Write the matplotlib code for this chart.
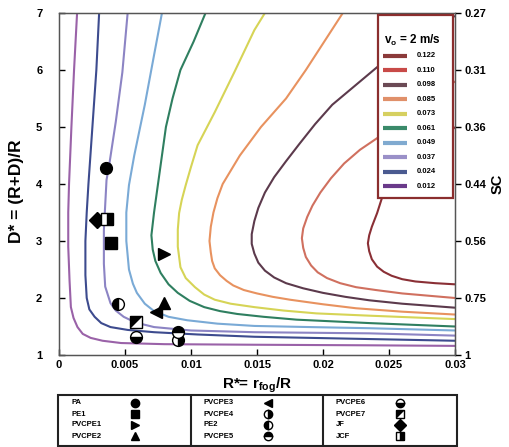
import matplotlib
matplotlib.use("Agg")
import matplotlib.pyplot as plt
from matplotlib.patches import Rectangle

plt.rcParams['font.family'] = ['Liberation Sans', 'DejaVu Sans']
plt.rcParams['font.weight'] = 'bold'
plt.rcParams['mathtext.fontset'] = 'custom'
plt.rcParams['mathtext.rm'] = 'Liberation Sans:bold'
plt.rcParams['mathtext.it'] = 'Liberation Sans:bold'
plt.rcParams['mathtext.bf'] = 'Liberation Sans:bold'

# ---------------- data ----------------
levels = ['0.122', '0.110', '0.098', '0.085', '0.073', '0.061', '0.049', '0.037', '0.024', '0.012']
level_colors = ['#8a2f35', '#d0705f', '#5c3a4c', '#e8925f', '#d6d456', '#2f7f60',
                '#7aaad6', '#8c84c4', '#3d4b8e', '#9a62a8']
legend_colors = ['#8b3a3a', '#c84a48', '#6b4a55', '#e0906a', '#d6d060', '#3a8a6a',
                 '#80aad0', '#9a90c8', '#4a5a90', '#6a3a8a']

c122_x = [0.0300, 0.0275, 0.0255, 0.0245, 0.0241, 0.0237, 0.0235, 0.0234, 0.0235, 0.0237, 0.0241, 0.0246, 0.0252, 0.0260, 0.0270, 0.0285, 0.0300]
c122_y = [5.00, 4.40, 4.00, 3.78, 3.49, 3.25, 3.10, 2.96, 2.82, 2.68, 2.55, 2.46, 2.39, 2.33, 2.29, 2.26, 2.24]
c110_x = [0.0300, 0.0270, 0.0242, 0.0228, 0.0216, 0.0206, 0.0198, 0.0192, 0.0188, 0.0185, 0.0184, 0.0185, 0.0187, 0.0191, 0.0196, 0.0203, 0.0213, 0.0225, 0.0240, 0.0260, 0.0280, 0.0300]
c110_y = [5.80, 5.30, 4.82, 4.60, 4.36, 4.10, 3.85, 3.62, 3.42, 3.22, 3.05, 2.88, 2.72, 2.57, 2.45, 2.35, 2.26, 2.19, 2.14, 2.08, 2.04, 2.00]
c098_x = [0.0300, 0.0270, 0.0241, 0.0224, 0.0207, 0.0194, 0.0182, 0.0172, 0.0163, 0.0156, 0.0151, 0.0148, 0.0146, 0.0146, 0.0148, 0.0151, 0.0156, 0.0163, 0.0172, 0.0185, 0.0200, 0.0217, 0.0235, 0.0260, 0.0300]
c098_y = [6.95, 6.50, 6.05, 5.72, 5.39, 5.05, 4.70, 4.40, 4.12, 3.85, 3.58, 3.35, 3.12, 2.95, 2.78, 2.62, 2.48, 2.36, 2.26, 2.17, 2.09, 2.02, 1.96, 1.90, 1.83]
c085_x = [0.0215, 0.0201, 0.0187, 0.0172, 0.0153, 0.0137, 0.0124, 0.0120, 0.0117, 0.0115, 0.0114, 0.0115, 0.0116, 0.0118, 0.0122, 0.0127, 0.0132, 0.0140, 0.0150, 0.0162, 0.0175, 0.0200, 0.0225, 0.0260, 0.0300]
c085_y = [7.00, 6.50, 6.00, 5.50, 5.00, 4.50, 4.00, 3.75, 3.50, 3.25, 3.00, 2.80, 2.65, 2.52, 2.40, 2.30, 2.22, 2.14, 2.08, 2.02, 1.97, 1.89, 1.82, 1.76, 1.71]
c073_x = [0.0156, 0.0148, 0.0133, 0.0118, 0.0105, 0.0100, 0.0096, 0.0093, 0.0091, 0.0090, 0.0090, 0.0091, 0.0092, 0.0096, 0.0103, 0.0110, 0.0118, 0.0130, 0.0148, 0.0170, 0.0195, 0.0235, 0.0300]
c073_y = [7.00, 6.70, 5.97, 5.26, 4.68, 4.30, 3.98, 3.72, 3.49, 3.20, 2.90, 2.72, 2.54, 2.35, 2.19, 2.06, 1.97, 1.90, 1.84, 1.78, 1.73, 1.69, 1.63]
c061_x = [0.0111, 0.0102, 0.0092, 0.0086, 0.0081, 0.0078, 0.0075, 0.0072, 0.0070, 0.0071, 0.0073, 0.0077, 0.0083, 0.0090, 0.0099, 0.0110, 0.0122, 0.0135, 0.0155, 0.0180, 0.0235, 0.0300]
c061_y = [7.00, 6.50, 6.00, 5.50, 5.00, 4.50, 4.00, 3.50, 3.10, 2.85, 2.65, 2.44, 2.24, 2.09, 1.95, 1.84, 1.77, 1.72, 1.67, 1.62, 1.56, 1.50]
c049_x = [0.0078, 0.0072, 0.0065, 0.0057, 0.0053, 0.0051, 0.0051, 0.0052, 0.0053, 0.0056, 0.0059, 0.0065, 0.0072, 0.0083, 0.0097, 0.0120, 0.0148, 0.0190, 0.0235, 0.0300]
c049_y = [7.00, 6.26, 5.39, 4.50, 3.98, 3.50, 3.00, 2.75, 2.50, 2.25, 2.09, 1.90, 1.77, 1.67, 1.61, 1.55, 1.51, 1.49, 1.47, 1.43]
c037_x = [0.0052, 0.0048, 0.0043, 0.0038, 0.0036, 0.0034, 0.0034, 0.0035, 0.0039, 0.0043, 0.0049, 0.0058, 0.0072, 0.0100, 0.0148, 0.0235, 0.0300]
c037_y = [7.00, 5.96, 5.09, 4.33, 4.07, 3.19, 2.60, 2.20, 1.91, 1.78, 1.67, 1.57, 1.49, 1.43, 1.40, 1.38, 1.34]
c024_x = [0.00304, 0.00283, 0.00253, 0.00223, 0.0021, 0.0020, 0.0020, 0.0021, 0.0023, 0.0027, 0.0032, 0.0039, 0.0052, 0.0072, 0.0105, 0.0148, 0.0235, 0.0300]
c024_y = [7.00, 6.00, 5.00, 4.00, 3.50, 3.00, 2.40, 2.00, 1.80, 1.67, 1.56, 1.49, 1.44, 1.40, 1.36, 1.32, 1.28, 1.25]
c012_x = [0.00137, 0.00114, 0.00094, 0.00076, 0.0007, 0.0007, 0.0008, 0.0009, 0.0011, 0.0014, 0.0018, 0.0024, 0.0033, 0.0047, 0.0080, 0.0148, 0.0235, 0.0300]
c012_y = [7.00, 6.00, 5.00, 4.00, 3.50, 2.90, 2.30, 1.84, 1.65, 1.49, 1.37, 1.30, 1.25, 1.21, 1.19, 1.18, 1.17, 1.16]

contours_x = [c122_x, c110_x, c098_x, c085_x, c073_x, c061_x, c049_x, c037_x, c024_x, c012_x]
contours_y = [c122_y, c110_y, c098_y, c085_y, c073_y, c061_y, c049_y, c037_y, c024_y, c012_y]

sample_names = ['PA', 'PE1', 'PVCPE1', 'PVCPE2', 'PVCPE3', 'PVCPE4', 'PE2', 'PVCPE5',
                'PVCPE6', 'PVCPE7', 'JF', 'JCF']
sample_x = [0.00355, 0.00397, 0.00797, 0.00797, 0.00734, 0.00899, 0.00448, 0.00899,
            0.00587, 0.00587, 0.00290, 0.00367]
sample_y = [4.28, 2.97, 2.78, 1.92, 1.76, 1.26, 1.89, 1.41, 1.32, 1.58, 3.37, 3.38]

y_ticks = [1, 2, 3, 4, 5, 6, 7]
sc_labels = ['1', '0.75', '0.56', '0.44', '0.36', '0.31', '0.27']
x_ticks = [0, 0.005, 0.01, 0.015, 0.02, 0.025, 0.03]
x_labels = ['0', '0.005', '0.01', '0.015', '0.02', '0.025', '0.03']

ULTRI = [(-1, -1), (-1, 1), (1, 1)]
marker_styles = {
    'PA': ('o', 'full'), 'PE1': ('s', 'full'), 'PVCPE1': ('>', 'full'),
    'PVCPE2': ('^', 'full'), 'PVCPE3': ('<', 'full'), 'PVCPE4': ('o', 'right'),
    'PE2': ('o', 'left'), 'PVCPE5': ('o', 'top'), 'PVCPE6': ('o', 'bottom'),
    'PVCPE7': ('diag', 'full'), 'JF': ('D', 'full'), 'JCF': ('s', 'right'),
}


def draw_marker(ax, x, y, name, ms):
    m, fs = marker_styles[name]
    if m == 'diag':
        ax.plot(x, y, linestyle='none', marker='s', ms=ms, mfc='white', mec='black', mew=1.0, zorder=5)
        ax.plot(x, y, linestyle='none', marker=ULTRI, ms=ms, mfc='black', mec='black', mew=0.5, zorder=6)
    else:
        msz = ms * 0.95 if m == 'D' else ms
        ax.plot(x, y, linestyle='none', marker=m, ms=msz, fillstyle=fs, mfc='black',
                mfcalt='white', mec='black', mew=1.0, zorder=5)


fig = plt.figure(figsize=(5.09, 4.47), dpi=100)
ax = fig.add_axes([59 / 509, 1 - 355 / 447, 396 / 509, 342 / 447])

for cx, cy, col in zip(contours_x, contours_y, level_colors):
    ax.plot(cx, cy, color=col, lw=1.5, solid_capstyle='butt', solid_joinstyle='round', zorder=2)

for n, x, y in zip(sample_names, sample_x, sample_y):
    draw_marker(ax, x, y, n, 8.5)

ax.set_xlim(0, 0.03)
ax.set_ylim(1, 7)
ax.set_xticks(x_ticks)
ax.set_xticklabels(x_labels)
ax.set_yticks(y_ticks)
ax.set_yticklabels([str(v) for v in y_ticks])
ax.tick_params(axis='both', direction='in', length=4, width=1, labelsize=8, colors='black')
ax.tick_params(axis='y', pad=12)
for s in ax.spines.values():
    s.set_color('#555555')
    s.set_linewidth(1.0)
ax.set_xlabel(r'R*= r$_{fog}$/R', fontsize=11, fontweight='bold', labelpad=4)
ax.set_ylabel('D* = (R+D)/R', fontsize=12.5, fontweight='bold')
ax.yaxis.set_label_coords(-0.088, 0.48)

ax2 = ax.twinx()
ax2.set_ylim(1, 7)
ax2.set_yticks(y_ticks)
ax2.set_yticklabels(sc_labels)
ax2.tick_params(axis='y', direction='out', length=4, width=1, labelsize=8, pad=3)
for s in ax2.spines.values():
    s.set_color('#555555')
ax2.set_ylabel('SC', fontsize=10.5, fontweight='bold', labelpad=3)

# ---------------- contour level key (overlay in pixel units) ----------------
ov = fig.add_axes([0, 0, 1, 1], zorder=10)
ov.set_xlim(0, 509)
ov.set_ylim(447, 0)
ov.axis('off')
ov.patch.set_alpha(0)
ov.add_patch(Rectangle((378, 15), 75, 183, facecolor='white', edgecolor='#8b2e2e', lw=1.6))
ov.text(412.5, 40, r'v$_o$ = 2 m/s', fontsize=8.5, fontweight='bold', ha='center', va='center')
for i, (lab, col) in enumerate(zip(levels, legend_colors)):
    yy = 55.7 + 14.5 * i
    ov.plot([383, 407], [yy, yy], color=col, lw=3, solid_capstyle='butt')
    ov.text(417, yy, lab, fontsize=5.5, fontweight='bold', ha='left', va='center')

# ---------------- bottom symbol key ----------------
lax = fig.add_axes([58 / 509, 1 / 447, 399 / 509, 51 / 447])
lax.set_xlim(0, 399)
lax.set_ylim(51, 0)
lax.axis('off')
lax.add_patch(Rectangle((0, 0), 399, 51, fill=False, edgecolor='#222222', lw=1.5, clip_on=False))
lax.plot([133, 133], [0, 51], color='#222222', lw=1.5)
lax.plot([265, 265], [0, 51], color='#222222', lw=1.5)
col_x = [0, 133, 265]
row_y = [8, 19, 30, 41]
for i, n in enumerate(sample_names):
    c, r = divmod(i, 4)
    lax.text(col_x[c] + 13, row_y[r], n, fontsize=5.5, fontweight='bold', va='center', ha='left')
    draw_marker(lax, [col_x[c] + 77], [row_y[r]], n, 6)

fig.savefig('out.png', dpi=100)
